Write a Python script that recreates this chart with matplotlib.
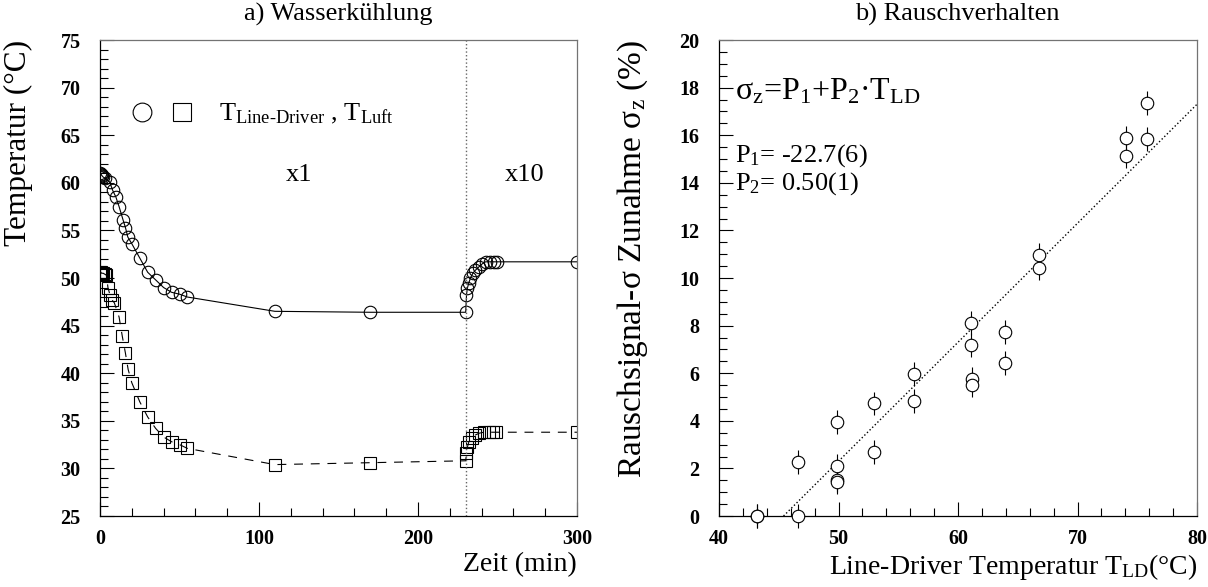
import matplotlib.pyplot as plt
import numpy as np
from matplotlib.ticker import MultipleLocator

plt.rcParams['font.family'] = ['Liberation Serif', 'DejaVu Serif']
plt.rcParams['mathtext.fontset'] = 'custom'
plt.rcParams['mathtext.rm'] = 'Liberation Serif'
plt.rcParams['mathtext.default'] = 'regular'

# a) Wasserkuehlung: line driver temperature (circles)
t_ld = [0, 0.5, 1, 1.5, 2, 3, 6, 8, 10, 12, 14.5, 16, 17.5, 20, 25, 30, 35, 40, 45, 50, 55,
        110, 170, 230,
        230.5, 231, 232, 233, 234.5, 236, 238.5, 240.5, 242.5, 245, 247.5, 249.5, 300]
T_ld = [61.0, 60.9, 60.8, 60.7, 60.6, 60.5, 60.1, 59.2, 58.5, 57.5, 56.1, 55.3, 54.3, 53.6, 52.1,
        50.6, 49.8, 49.0, 48.5, 48.3, 48.0,
        46.5, 46.4, 46.4,
        48.2, 48.9, 49.5, 50.0, 50.5, 50.8, 51.2, 51.5, 51.7, 51.7, 51.7, 51.7, 51.7]

# air temperature (squares)
t_air = [0, 0.5, 1, 2, 3, 4, 5, 6.3, 7.5, 9, 12, 14, 16, 17.7, 20, 25, 30, 35, 40, 45, 50, 55,
         110, 170, 230,
         230.5, 231, 232, 234, 236, 238.5, 241.5, 244.5, 247, 249, 300]
T_air = [50.6, 50.6, 50.5, 50.5, 50.4, 50.3, 49.0, 48.2, 47.7, 47.4, 45.9, 43.9, 42.1, 40.4, 39.0,
         37.0, 35.4, 34.2, 33.3, 32.8, 32.5, 32.1,
         30.4, 30.6, 30.8,
         31.6, 32.2, 32.8, 33.2, 33.5, 33.7, 33.8, 33.8, 33.8, 33.8, 33.8]

# b) Rauschverhalten
temp_ld = [43.2, 43.2, 46.6, 46.6, 49.9, 49.9, 49.9, 49.9, 53.0, 53.0, 56.3, 56.3,
           61.1, 61.1, 61.2, 61.2, 63.9, 63.9, 66.8, 66.8, 74.1, 74.1, 75.8, 75.8]
sigma_z = [0.0, 0.0, 0.0, 2.28, 3.94, 2.1, 1.51, 1.44, 2.7, 4.73, 4.83, 5.97,
           8.1, 7.2, 5.75, 5.5, 7.74, 6.44, 10.97, 10.43, 15.9, 15.14, 15.84, 17.34]
sigma_err = [0.5] * len(sigma_z)
P1, P2 = -22.7, 0.50

fig = plt.figure(figsize=(12.08, 5.87), dpi=100)
W, H = 1208., 587.
ax1 = fig.add_axes([100 / W, 1 - 516 / H, 477 / W, 476 / H])
ax2 = fig.add_axes([719 / W, 1 - 516 / H, 478 / W, 476 / H])

# left panel
ax1.plot(t_ld, T_ld, '-', color='black', lw=0.8, marker='o', ms=9, mfc='none', mec='black', mew=0.8)
ax1.plot(t_air, T_air, '--', color='black', lw=0.8, dashes=(8, 7), marker='s', ms=9, mfc='none',
         mec='black', mew=0.8)
ax1.axvline(230, color='0.4', ls=':', lw=1)
ax1.set_xlim(0, 300)
ax1.set_ylim(25, 75)
ax1.xaxis.set_major_locator(MultipleLocator(100))
ax1.xaxis.set_minor_locator(MultipleLocator(20))
ax1.yaxis.set_major_locator(MultipleLocator(5))
ax1.yaxis.set_minor_locator(MultipleLocator(1))
ax1.plot([26.4], [67.4], 'o', ms=13.5, mfc='none', mec='black', mew=0.8, clip_on=False)
ax1.plot([51.6], [67.4], 's', ms=13.5, mfc='none', mec='black', mew=0.8, clip_on=False)
ax1.text(75, 66.6, r'T$_{\text{Line-Driver}}$ , T$_{Luft}$', fontsize=19, va='baseline')
ax1.text(125, 60.8, 'x1', fontsize=19, ha='center', va='center')
ax1.text(267, 60.8, 'x10', fontsize=19, ha='center', va='center')
ax1.set_xlabel('Zeit (min)', fontsize=20, loc='right')
ax1.set_ylabel('Temperatur (°C)', fontsize=22.5, loc='top')
ax1.xaxis.set_label_coords(1.0, -0.075)
ax1.yaxis.set_label_coords(-0.14, 1.0)

# right panel
ax2.errorbar(temp_ld, sigma_z, yerr=sigma_err, fmt='o', ms=9, mfc='white', mec='black', mew=0.8,
             ecolor='black', elinewidth=0.8, capsize=0, clip_on=False, zorder=3)
xf = np.array([-P1 / P2, 80])
ax2.plot(xf, P1 + P2 * xf, ':', color='black', lw=1)
ax2.set_xlim(40, 80)
ax2.set_ylim(0, 20)
ax2.xaxis.set_major_locator(MultipleLocator(10))
ax2.xaxis.set_minor_locator(MultipleLocator(2))
ax2.yaxis.set_major_locator(MultipleLocator(2))
ax2.yaxis.set_minor_locator(MultipleLocator(0.5))
ax2.text(41.3, 17.5, r'σ$_z$=P$_1$+P$_2$·T$_{LD}$', fontsize=23, va='baseline')
ax2.text(41.3, 14.9, r'P$_1$= -22.7(6)', fontsize=19, va='baseline')
ax2.text(41.3, 13.7, r'P$_2$= 0.50(1)', fontsize=19, va='baseline')
ax2.set_xlabel('Line-Driver Temperatur T$_{LD}$(°C)', fontsize=20, loc='right')
ax2.set_ylabel('Rauschsignal-σ Zunahme σ$_z$ (%)', fontsize=24, loc='top')
ax2.xaxis.set_label_coords(1.0, -0.075)
ax2.yaxis.set_label_coords(-0.145, 1.0)

for ax in (ax1, ax2):
    ax.tick_params(which='both', direction='in', top=False, right=False, width=0.8)
    ax.tick_params(which='major', length=10, labelsize=14.5, pad=9)
    ax.tick_params(which='minor', length=5.5)
    ax.tick_params(axis='y', which='major', pad=14)
    for lab in ax.get_xticklabels() + ax.get_yticklabels():
        lab.set_fontweight('bold')
    for s in ('top', 'right'):
        ax.spines[s].set_color('0.45')
    for s in ax.spines.values():
        s.set_linewidth(0.9)

fig.text(338 / W, 1 - 14 / H, 'a) Wasserkühlung', fontsize=19, ha='center', va='center')
fig.text(957 / W, 1 - 14 / H, 'b) Rauschverhalten', fontsize=19, ha='center', va='center')

fig.savefig('out.png', dpi=100)
